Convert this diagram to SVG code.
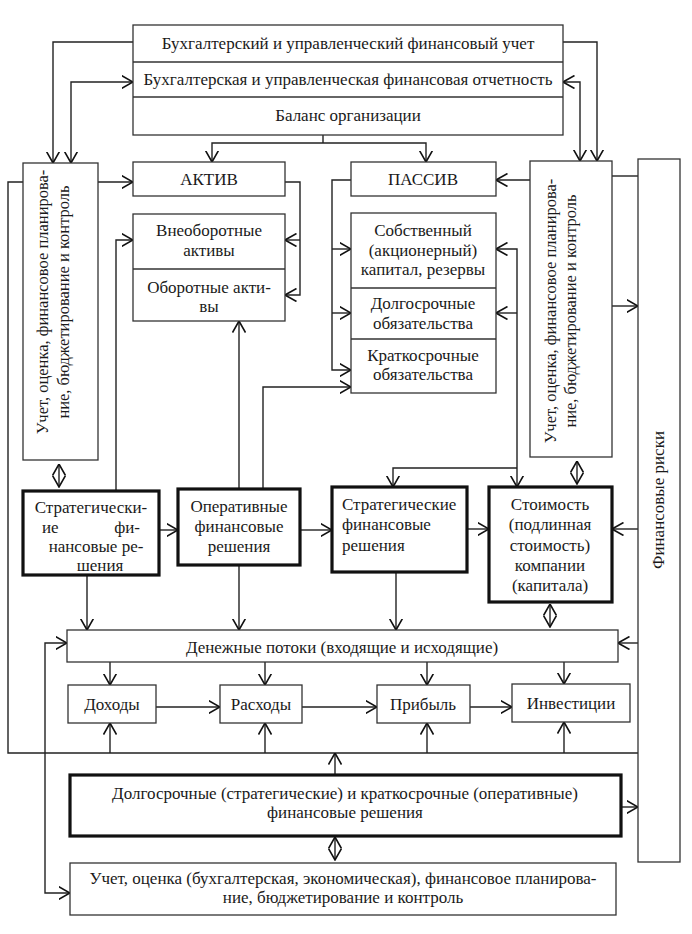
<svg xmlns="http://www.w3.org/2000/svg" width="692" height="934" viewBox="0 0 692 934">
<style>
.b{fill:#fff;stroke:#333;stroke-width:1.3}
.t{fill:#fff;stroke:#111;stroke-width:3.2}
text{font-family:"Liberation Serif","Times New Roman",serif;font-size:17px;fill:#1a1a1a}
.r{font-size:16.5px}
.m{text-anchor:middle}
.e{text-anchor:end}
.c{fill:none;stroke:#222;stroke-width:1.4}
.a{marker-end:url(#ar)}
.d{marker-start:url(#ar);marker-end:url(#ar)}
</style>
<defs>
<marker id="ar" viewBox="0 0 12 14" refX="11.5" refY="7" markerWidth="12" markerHeight="14" markerUnits="userSpaceOnUse" orient="auto-start-reverse"><path d="M0,0.5 L11.5,7 L0,13.5" fill="none" stroke="#111" stroke-width="1.6"/></marker>
</defs>
<rect width="692" height="934" fill="#fff"/>

<g id="connectors">
<path class="c a" d="M133,42 H53 V163"/>
<path class="c d" d="M71,163 V82 H133"/>
<path class="c a" d="M563,42 H597 V161"/>
<path class="c d" d="M580,161 V82 H563"/>
<path class="c" d="M323,135 V143"/>
<path class="c d" d="M212,162 V143 H426 V162"/>
<path class="c" d="M23,182 H8 V753 H638"/>
<path class="c a" d="M98,182 H133"/>
<path class="c a" d="M285,182 H300 V295 H285"/>
<path class="c a" d="M300,240 H285"/>
<path class="c a" d="M116,491 V240 H133"/>
<path class="c a" d="M239,489 V321"/>
<path class="c a" d="M263,489 V387 H351"/>
<path class="c a" d="M351,180 H332 V370 H351"/>
<path class="c a" d="M332,249 H351"/>
<path class="c a" d="M332,313 H351"/>
<path class="c a" d="M530,180 H496"/>
<path class="c" d="M612,176 H638"/>
<path class="c a" d="M612,306 H638"/>
<path class="c d" d="M517,487 V249 H496"/>
<path class="c a" d="M517,313 H496"/>
<path class="c a" d="M517,468 H393 V487"/>
<path class="c d" d="M59,464 V487"/>
<path class="c d" d="M577,461 V484"/>
<path class="c d" d="M550,604 V627"/>
<path class="c a" d="M159,530 H178"/>
<path class="c a" d="M300,530 H332"/>
<path class="c a" d="M467,529 H489"/>
<path class="c a" d="M638,529 H612"/>
<path class="c a" d="M87,575 V630"/>
<path class="c a" d="M239,565 V630"/>
<path class="c a" d="M396,572 V630"/>
<path class="c d" d="M70,893 H45 V643 H67"/>
<path class="c a" d="M638,643 H618"/>
<path class="c a" d="M110,662 V685"/>
<path class="c a" d="M265,662 V685"/>
<path class="c a" d="M427,662 V685"/>
<path class="c a" d="M564,662 V684"/>
<path class="c a" d="M156,707 H220"/>
<path class="c a" d="M302,707 H377"/>
<path class="c a" d="M470,707 H512"/>
<path class="c a" d="M110,753 V723"/>
<path class="c a" d="M265,753 V723"/>
<path class="c a" d="M427,753 V723"/>
<path class="c a" d="M564,753 V722"/>
<path class="c a" d="M335,775 V753"/>
<path class="c a" d="M621,807 H638"/>
<path class="c d" d="M335,837 V860"/>
</g>

<g id="top">
<rect class="b" x="133" y="25" width="430" height="110"/>
<line x1="133" y1="62" x2="563" y2="62" stroke="#333" stroke-width="1.3"/>
<line x1="133" y1="97" x2="563" y2="97" stroke="#333" stroke-width="1.3"/>
<text class="m" x="348" y="49">Бухгалтерский и управленческий финансовый учет</text>
<text class="m" x="348" y="85">Бухгалтерская и управленческая финансовая отчетность</text>
<text class="m" x="348" y="121">Баланс организации</text>
</g>

<g id="left-control">
<rect class="b" x="23" y="163" width="75" height="297"/>
<text class="m r" transform="translate(47.5,302) rotate(-90)">Учет, оценка, финансовое планирова-</text>
<text class="m r" transform="translate(68.5,302) rotate(-90)">ние, бюджетирование и контроль</text>
</g>

<g id="aktiv">
<rect class="b" x="133" y="162" width="152" height="34"/>
<text class="m" x="209" y="185">АКТИВ</text>
</g>

<g id="aktiv-items">
<rect class="b" x="133" y="214" width="152" height="107"/>
<line x1="133" y1="269" x2="285" y2="269" stroke="#333" stroke-width="1.3"/>
<text class="m" x="209" y="236">Внеоборотные</text>
<text class="m" x="209" y="256">активы</text>
<text class="m" x="209" y="293">Оборотные акти-</text>
<text class="m" x="209" y="312">вы</text>
</g>

<g id="passiv">
<rect class="b" x="351" y="162" width="145" height="34"/>
<text class="m" x="423" y="185">ПАССИВ</text>
</g>

<g id="passiv-items">
<rect class="b" x="351" y="213" width="145" height="180"/>
<line x1="351" y1="288" x2="496" y2="288" stroke="#333" stroke-width="1.3"/>
<line x1="351" y1="339" x2="496" y2="339" stroke="#333" stroke-width="1.3"/>
<text class="m" x="423" y="236">Собственный</text>
<text class="m" x="423" y="256">(акционерный)</text>
<text class="m" x="423" y="275">капитал, резервы</text>
<text class="m" x="423" y="309">Долгосрочные</text>
<text class="m" x="423" y="329">обязательства</text>
<text class="m" x="423" y="361">Краткосрочные</text>
<text class="m" x="423" y="380">обязательства</text>
</g>

<g id="right-control">
<rect class="b" x="530" y="161" width="82" height="296"/>
<text class="m r" transform="translate(555.5,311) rotate(-90)">Учет, оценка, финансовое планирова-</text>
<text class="m r" transform="translate(575.5,311) rotate(-90)">ние, бюджетирование и контроль</text>
</g>

<g id="risks">
<rect class="b" x="638" y="159" width="42" height="703"/>
<text class="m" transform="translate(663.5,500) rotate(-90)">Финансовые риски</text>
</g>

<g id="strategic-left">
<rect class="t" x="23" y="491" width="136" height="84"/>
<text class="m" x="91" y="513">Стратегически-</text>
<text x="42" y="533">ие</text>
<text class="e" x="140" y="533">фи-</text>
<text class="m" x="96" y="552">нансовые ре-</text>
<text class="m" x="100" y="571">шения</text>
</g>

<g id="operative">
<rect class="t" x="178" y="489" width="122" height="76"/>
<text class="m" x="239" y="512">Оперативные</text>
<text class="m" x="239" y="532">финансовые</text>
<text class="m" x="239" y="552">решения</text>
</g>

<g id="strategic-mid">
<rect class="t" x="332" y="487" width="135" height="85"/>
<text x="342" y="510">Стратегические</text>
<text x="342" y="530">финансовые</text>
<text x="342" y="551">решения</text>
</g>

<g id="value">
<rect class="t" x="489" y="487" width="123" height="115"/>
<text class="m" x="550" y="510">Стоимость</text>
<text class="m" x="550" y="530">(подлинная</text>
<text class="m" x="550" y="551">стоимость)</text>
<text class="m" x="550" y="571">компании</text>
<text class="m" x="550" y="591">(капитала)</text>
</g>

<g id="cashflows">
<rect class="b" x="67" y="630" width="551" height="32" stroke="#777"/>
<text class="m" x="342" y="653">Денежные потоки (входящие и исходящие)</text>
</g>

<g id="income">
<rect class="b" x="68" y="685" width="88" height="38"/>
<text class="m" x="112" y="710">Доходы</text>
</g>
<g id="expenses">
<rect class="b" x="220" y="685" width="82" height="38"/>
<text class="m" x="261" y="710">Расходы</text>
</g>
<g id="profit">
<rect class="b" x="377" y="685" width="93" height="38"/>
<text class="m" x="423" y="710">Прибыль</text>
</g>
<g id="investments">
<rect class="b" x="512" y="684" width="118" height="38"/>
<text class="m" x="571" y="709">Инвестиции</text>
</g>

<g id="decisions">
<rect class="t" x="70" y="775" width="551" height="61"/>
<text class="m" x="345" y="799">Долгосрочные (стратегические) и краткосрочные (оперативные)</text>
<text class="m" x="345" y="818">финансовые решения</text>
</g>

<g id="accounting">
<rect class="b" x="70" y="863" width="546" height="52"/>
<text class="m" x="343" y="884">Учет, оценка (бухгалтерская, экономическая), финансовое планирова-</text>
<text class="m" x="343" y="903">ние, бюджетирование и контроль</text>
</g>
</svg>
